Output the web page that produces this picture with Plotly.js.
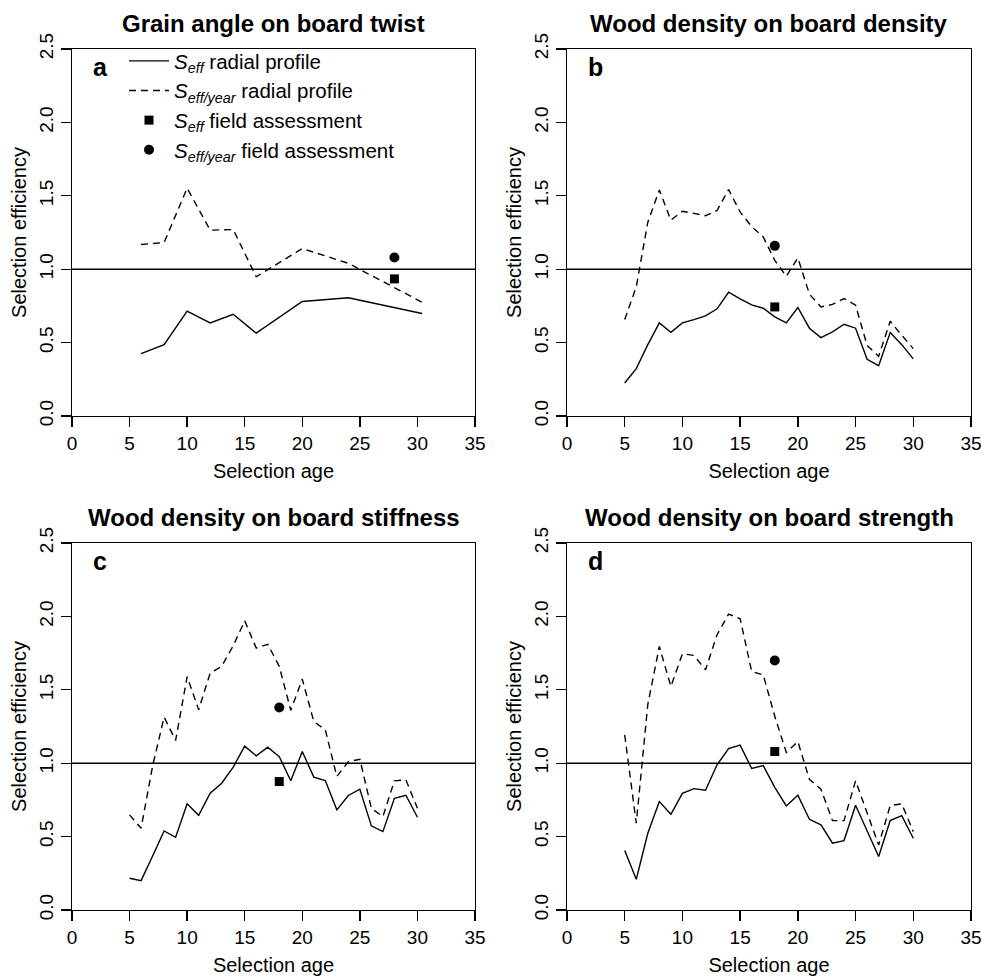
<!DOCTYPE html>
<html>
<head>
<meta charset="utf-8">
<script src="https://cdn.plot.ly/plotly-3.0.1.min.js"></script>
<style>html,body{margin:0;padding:0;background:#fff;}#chart{width:982px;height:976px;}</style>
</head>
<body>
<div id="chart"></div>
<script>
// ---------- data ----------
const panelTitles = ["Grain angle on board twist", "Wood density on board density",
                     "Wood density on board stiffness", "Wood density on board strength"];
const panelLetters = ["a", "b", "c", "d"];

// Panel a: grain angle on board twist
const ageA = [6, 8, 10, 12, 14, 16, 20, 24, 30.4];
const seffA = [0.425, 0.486, 0.714, 0.634, 0.693, 0.564, 0.78, 0.805, 0.698];
const seffYearA = [1.168, 1.182, 1.552, 1.266, 1.27, 0.948, 1.141, 1.04, 0.775];
const fieldAgeA = [28];
const fieldSeffA = [0.934];
const fieldSeffYearA = [1.08];

// Panels b-d share the yearly ages 5..30
const ageBCD = [5, 6, 7, 8, 9, 10, 11, 12, 13, 14, 15, 16, 17, 18, 19, 20,
                21, 22, 23, 24, 25, 26, 27, 28, 29, 30];

// Panel b: wood density on board density
const seffB = [0.225, 0.323, 0.486, 0.634, 0.57, 0.634, 0.657, 0.682, 0.73, 0.843,
               0.798, 0.757, 0.734, 0.675, 0.634, 0.739, 0.598, 0.534, 0.573, 0.625,
               0.598, 0.386, 0.343, 0.568, 0.486, 0.389];
const seffYearB = [0.657, 0.88, 1.32, 1.54, 1.334, 1.395, 1.38, 1.364, 1.40, 1.543,
                   1.39, 1.29, 1.22, 1.06, 0.952, 1.077, 0.83, 0.743, 0.76, 0.8,
                   0.755, 0.48, 0.407, 0.645, 0.55, 0.459];
const fieldAgeB = [18];
const fieldSeffB = [0.743];
const fieldSeffYearB = [1.159];

// Panel c: wood density on board stiffness
const seffC = [0.216, 0.2, 0.368, 0.539, 0.495, 0.723, 0.645, 0.795, 0.864, 0.973,
               1.116, 1.05, 1.109, 1.045, 0.88, 1.08, 0.905, 0.882, 0.682, 0.78,
               0.823, 0.573, 0.534, 0.761, 0.782, 0.632];
const seffYearC = [0.648, 0.557, 0.98, 1.314, 1.155, 1.59, 1.364, 1.614, 1.66, 1.80,
                   1.97, 1.784, 1.81, 1.66, 1.36, 1.573, 1.284, 1.227, 0.91, 1.01,
                   1.027, 0.693, 0.636, 0.88, 0.886, 0.693];
const fieldAgeC = [18];
const fieldSeffC = [0.875];
const fieldSeffYearC = [1.38];

// Panel d: wood density on board strength
const seffD = [0.405, 0.209, 0.523, 0.739, 0.652, 0.795, 0.827, 0.816, 0.989, 1.1,
               1.123, 0.964, 0.984, 0.836, 0.709, 0.782, 0.618, 0.58, 0.455, 0.473,
               0.714, 0.539, 0.364, 0.609, 0.643, 0.489];
const seffYearD = [1.193, 0.591, 1.4, 1.795, 1.523, 1.745, 1.734, 1.636, 1.875, 2.016,
                   1.984, 1.625, 1.602, 1.32, 1.073, 1.148, 0.89, 0.823, 0.609, 0.609,
                   0.88, 0.66, 0.443, 0.711, 0.723, 0.534];
const fieldAgeD = [18];
const fieldSeffD = [1.08];
const fieldSeffYearD = [1.70];

const referenceLevel = 1.0;
const xTickVals = [0, 5, 10, 15, 20, 25, 30, 35];
const yTickVals = [0, 0.5, 1.0, 1.5, 2.0, 2.5];

// ---------- build ----------
const panels = [
  {age: ageA, seff: seffA, seffYear: seffYearA, fAge: fieldAgeA, fSeff: fieldSeffA, fSeffYear: fieldSeffYearA},
  {age: ageBCD, seff: seffB, seffYear: seffYearB, fAge: fieldAgeB, fSeff: fieldSeffB, fSeffYear: fieldSeffYearB},
  {age: ageBCD, seff: seffC, seffYear: seffYearC, fAge: fieldAgeC, fSeff: fieldSeffC, fSeffYear: fieldSeffYearC},
  {age: ageBCD, seff: seffD, seffYear: seffYearD, fAge: fieldAgeD, fSeff: fieldSeffD, fSeffYear: fieldSeffYearD}
];

const FONT = "Liberation Sans, Arial, Helvetica, sans-serif";
const W = 982, H = 976;
const xDomains = [[72 / W, 475 / W], [567 / W, 971 / W]];
const yDomains = [[1 - 416 / H, 1 - 49 / H], [1 - 910 / H, 1 - 543 / H]];

const traces = [];
const layout = {
  width: W, height: H,
  margin: {l: 0, r: 0, t: 0, b: 0},
  paper_bgcolor: "#fff", plot_bgcolor: "#fff",
  font: {family: FONT, color: "#000", size: 18},
  showlegend: true,
  legend: {
    x: 124 / W, y: 1 - 41 / H, xanchor: "left", yanchor: "top",
    bgcolor: "rgba(0,0,0,0)", borderwidth: 0,
    font: {family: FONT, size: 20.5, color: "#000"},
    itemwidth: 40, tracegroupgap: 0
  },
  annotations: [],
  shapes: []
};

const S = "<i>S</i><sub><i>eff</i></sub>";
const SY = "<i>S</i><sub><i>eff/year</i></sub>";

panels.forEach((p, i) => {
  const n = i + 1;
  const xa = n === 1 ? "x" : "x" + n;
  const ya = n === 1 ? "y" : "y" + n;
  const col = i % 2, row = Math.floor(i / 2);
  const leg = i === 0;
  traces.push({x: p.age, y: p.seff, xaxis: xa, yaxis: ya, type: "scatter", mode: "lines",
    line: {color: "#000", width: 1.4}, name: S + " radial profile", showlegend: leg, hoverinfo: "skip"});
  traces.push({x: p.age, y: p.seffYear, xaxis: xa, yaxis: ya, type: "scatter", mode: "lines",
    line: {color: "#000", width: 1.4, dash: "7px,5px"}, name: SY + " radial profile", showlegend: leg, hoverinfo: "skip"});
  traces.push({x: p.fAge, y: p.fSeff, xaxis: xa, yaxis: ya, type: "scatter", mode: "markers",
    marker: {symbol: "square", size: 9, color: "#000"}, name: S + " field assessment", showlegend: leg, hoverinfo: "skip"});
  traces.push({x: p.fAge, y: p.fSeffYear, xaxis: xa, yaxis: ya, type: "scatter", mode: "markers",
    marker: {symbol: "circle", size: 10, color: "#000"}, name: SY + " field assessment", showlegend: leg, hoverinfo: "skip"});

  const axKeyX = n === 1 ? "xaxis" : "xaxis" + n;
  const axKeyY = n === 1 ? "yaxis" : "yaxis" + n;
  layout[axKeyX] = {
    domain: xDomains[col], anchor: ya, range: [0, 35], fixedrange: true,
    tickmode: "array", tickvals: xTickVals, ticktext: xTickVals.map(String),
    ticks: "outside", ticklen: 10, tickwidth: 1.3, tickcolor: "#000",
    showline: true, mirror: true, linecolor: "#000", linewidth: 1.4,
    showgrid: false, zeroline: false,
    tickfont: {family: FONT, size: 19, color: "#000"},
    title: {text: "Selection age", font: {family: FONT, size: 20, color: "#000"}, standoff: 10}
  };
  layout[axKeyY] = {
    domain: yDomains[row], anchor: xa, range: [0, 2.5], fixedrange: true,
    tickmode: "array", tickvals: yTickVals, ticktext: yTickVals.map(v => v.toFixed(1)),
    tickangle: -90,
    ticks: "outside", ticklen: 10, tickwidth: 1.3, tickcolor: "#000",
    showline: true, mirror: true, linecolor: "#000", linewidth: 1.4,
    showgrid: false, zeroline: false,
    tickfont: {family: FONT, size: 19, color: "#000"},
    title: {text: "Selection efficiency", font: {family: FONT, size: 20, color: "#000"}, standoff: 4}
  };

  layout.shapes.push({type: "line", xref: xa + " domain", x0: 0, x1: 1, yref: ya,
    y0: referenceLevel, y1: referenceLevel, line: {color: "#000", width: 1.4}});

  layout.annotations.push({text: "<b>" + panelTitles[i] + "</b>", xref: xa + " domain", x: 0.5,
    yref: ya + " domain", y: 1, yshift: 10.5, xanchor: "center", yanchor: "bottom", showarrow: false,
    font: {family: FONT, size: 24, color: "#000"}});
  layout.annotations.push({text: "<b>" + panelLetters[i] + "</b>", xref: xa + " domain", x: 0.07,
    yref: ya + " domain", y: 0.952, xanchor: "center", yanchor: "middle", showarrow: false,
    font: {family: FONT, size: 25, color: "#000"}});
});

Plotly.newPlot("chart", traces, layout, {displayModeBar: false, staticPlot: true});
</script>
</body>
</html>
